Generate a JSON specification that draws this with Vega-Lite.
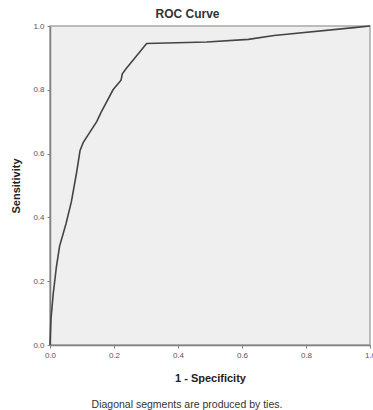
{
  "$schema": "https://vega.github.io/schema/vega-lite/v6.json",
  "autosize": "none",
  "width": 320,
  "height": 319,
  "padding": {"left": 50, "top": 26, "right": 3, "bottom": 65},
  "background": "white",
  "title": {
    "text": "Diagonal segments are produced by ties.",
    "orient": "bottom",
    "anchor": "middle",
    "dx": -23,
    "offset": 17,
    "fontSize": 10.5,
    "fontWeight": "normal",
    "font": "Liberation Sans",
    "color": "#333333"
  },
  "config": {
    "view": {"fill": "#efefef", "stroke": "#a8a8a8", "strokeWidth": 1.5},
    "axis": {
      "labelFont": "Liberation Sans",
      "labelFontSize": 8,
      "labelColor": "#555555",
      "titleFont": "Liberation Sans",
      "titleColor": "#222222",
      "domainColor": "#808080",
      "domainWidth": 1.5,
      "tickColor": "#808080",
      "tickSize": 3,
      "grid": false
    }
  },
  "data": {
    "values": [
      {"fpr": 0.0, "tpr": 0.0},
      {"fpr": 0.003, "tpr": 0.08},
      {"fpr": 0.01, "tpr": 0.16},
      {"fpr": 0.02, "tpr": 0.245},
      {"fpr": 0.03, "tpr": 0.31},
      {"fpr": 0.05, "tpr": 0.38},
      {"fpr": 0.067, "tpr": 0.45},
      {"fpr": 0.083, "tpr": 0.54},
      {"fpr": 0.094, "tpr": 0.61},
      {"fpr": 0.104, "tpr": 0.635},
      {"fpr": 0.146, "tpr": 0.7},
      {"fpr": 0.16, "tpr": 0.73},
      {"fpr": 0.197, "tpr": 0.8},
      {"fpr": 0.222, "tpr": 0.83},
      {"fpr": 0.226, "tpr": 0.85},
      {"fpr": 0.237, "tpr": 0.865},
      {"fpr": 0.302, "tpr": 0.945},
      {"fpr": 0.49, "tpr": 0.95},
      {"fpr": 0.62, "tpr": 0.958},
      {"fpr": 0.7, "tpr": 0.97},
      {"fpr": 0.95, "tpr": 0.995},
      {"fpr": 1.0, "tpr": 1.0}
    ]
  },
  "layer": [
    {
      "mark": {"type": "line", "color": "#444444", "strokeWidth": 1.6},
      "encoding": {
        "x": {
          "field": "fpr", "type": "quantitative",
          "scale": {"domain": [0, 1], "nice": false},
          "axis": {
            "values": [0, 0.2, 0.4, 0.6, 0.8, 1.0],
            "format": ".1f",
            "title": "1 - Specificity",
            "titleFontSize": 11,
            "titleFontWeight": "bold",
            "titlePadding": 13,
            "labelPadding": 3,
            "labelFlush": false
          }
        },
        "y": {
          "field": "tpr", "type": "quantitative",
          "scale": {"domain": [0, 1], "nice": false},
          "axis": {
            "values": [0, 0.2, 0.4, 0.6, 0.8, 1.0],
            "format": ".1f",
            "title": "Sensitivity",
            "titleFontSize": 11,
            "titleFontWeight": "bold",
            "titlePadding": 11,
            "labelPadding": 3,
            "labelFlush": false
          }
        }
      }
    },
    {
      "mark": {"type": "line", "opacity": 0},
      "encoding": {
        "x": {
          "field": "fpr", "type": "quantitative",
          "scale": {"domain": [0, 1], "nice": false},
          "axis": {
            "orient": "top",
            "title": "ROC Curve",
            "titleFontSize": 12,
            "titleFontWeight": "bold",
            "titleColor": "#333333",
            "titleX": 137,
            "titlePadding": 6,
            "labels": false,
            "ticks": false,
            "domain": false
          }
        }
      }
    }
  ],
  "resolve": {"axis": {"x": "independent"}}
}
